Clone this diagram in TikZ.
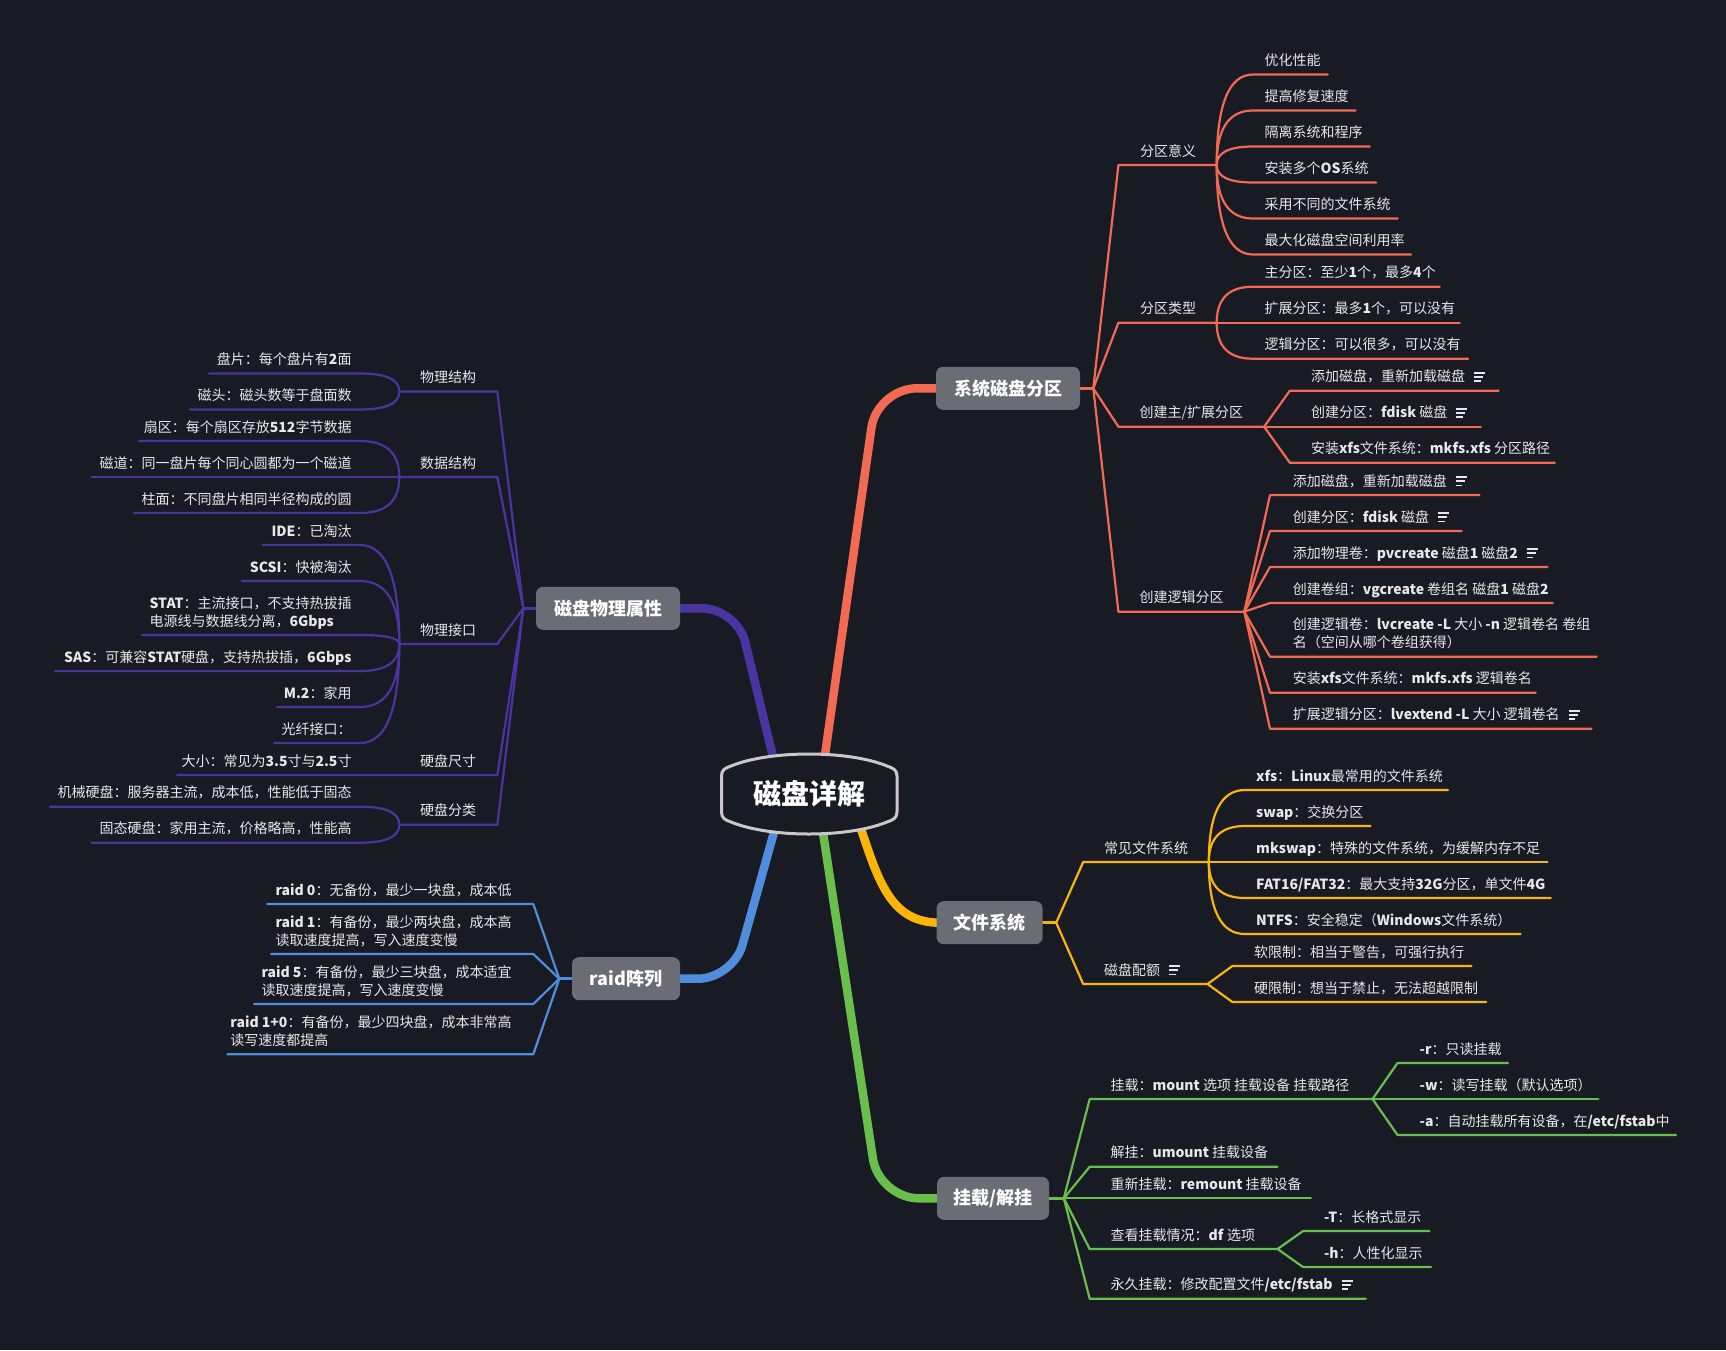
\documentclass[tikz,border=0pt]{standalone}
\usepackage{fontspec}
\setmainfont{Noto Sans CJK SC}
\definecolor{bg}{RGB}{24,26,36}
\definecolor{boxc}{RGB}{106,109,118}
\definecolor{cred}{RGB}{243,106,82}
\definecolor{cpur}{RGB}{76,52,160}
\definecolor{cblu}{RGB}{80,142,221}
\definecolor{cyel}{RGB}{250,180,10}
\definecolor{cgrn}{RGB}{106,190,76}
\definecolor{ctxt}{RGB}{232,232,234}
\definecolor{cbord}{RGB}{200,200,200}
\newcommand\lb[1]{\textbf{#1}}
\newcommand\noteic{\hspace{9pt}\vbox{\hrule width 11pt height 1.5pt\vskip 2.6pt\hrule width 9pt height 1.5pt\vskip 2.6pt\hrule width 6.5pt height 1.5pt}}
\newcommand\ml[1]{\begin{tabular}[b]{@{}l@{}}#1\end{tabular}}
\newcommand\cv[6]{\draw[#1] (#2,#3) .. controls (#2,{#3+(#5-#3)*0.667}) and ({#4-(#4-#2)*0.667},#5) .. (#4,#5) -- (#6,#5);}
\newcommand\tR[4]{\node[lt,anchor=base west] (#1) at (#2,{#3-9}) {#4};}
\newcommand\tL[4]{\node[lt,anchor=base east] (#1) at (#2,{#3-9}) {#4};}
\tikzset{
 lw/.style={line width=2.2pt, line cap=round, line join=round},
 stub/.style={line width=3.5pt},
 mainbr/.style={line width=8.5pt, line cap=round, rounded corners=#1},
 lt/.style={inner sep=0pt, text=ctxt, font=\fontsize{14}{18}\selectfont},
 topic/.style={fill=boxc, rounded corners=7pt, text=white, font=\bfseries\fontsize{18}{22}\selectfont, minimum height=43pt, inner sep=0pt},
}
\begin{document}
\begin{tikzpicture}[x=1pt,y=-1pt]
\useasboundingbox (0,0) rectangle (1726,1350);
\fill[bg] (0,0) rectangle (1726,1350);

% ---------------- red subtree
\coordinate (fr) at (1093.3,388.3);
\draw[cred,stub] (1075,388.3) -- (fr);
\draw[cred,lw] (fr) -- (1118.4,165) -- (1216.7,165);
\draw[cred,lw] (fr) -- (1118.4,322.7) -- (1216.7,322.7);
\draw[cred,lw] (fr) -- (1118.4,426.7) -- (1264.1,426.7);
\draw[cred,lw] (fr) -- (1118.4,611.7) -- (1244.3,611.7);
\cv{cred,lw}{1216.7}{165}{1253}{74.5}{1327.7}
\cv{cred,lw}{1216.7}{165}{1253}{110.5}{1355.6}
\cv{cred,lw}{1216.7}{165}{1253}{146.5}{1369.8}
\cv{cred,lw}{1216.7}{165}{1253}{182.5}{1376.3}
\cv{cred,lw}{1216.7}{165}{1253}{218.5}{1397.7}
\cv{cred,lw}{1216.7}{165}{1253}{254.5}{1411.1}
\cv{cred,lw}{1216.7}{322.7}{1253}{286.7}{1439.8}
\cv{cred,lw}{1216.7}{322.7}{1253}{322.7}{1459.7}
\cv{cred,lw}{1216.7}{322.7}{1253}{358.7}{1468.1}
\draw[cred,lw] (1264.1,426.7) -- (1289.8,390.7) -- (1498.6,390.7);
\draw[cred,lw] (1264.1,426.7) -- (1289.8,426.7) -- (1480.8,426.7);
\draw[cred,lw] (1264.1,426.7) -- (1289.8,462.7) -- (1554.7,462.7);
\draw[cred,lw] (1244.3,611.7) -- (1270,495) -- (1479.6,495);
\draw[cred,lw] (1244.3,611.7) -- (1270,531) -- (1461.8,531);
\draw[cred,lw] (1244.3,611.7) -- (1270,567) -- (1547.6,567);
\draw[cred,lw] (1244.3,611.7) -- (1270,603) -- (1552.7,603);
\draw[cred,lw] (1244.3,611.7) -- (1270,656.7) -- (1596.6,656.7);
\draw[cred,lw] (1244.3,611.7) -- (1270,692.7) -- (1535.7,692.7);
\draw[cred,lw] (1244.3,611.7) -- (1270,728.7) -- (1591.5,728.7);

\tR{r1}{1140}{165}{分区意义}
\tR{r2}{1140}{322.7}{分区类型}
\tR{r3}{1139.5}{426.7}{创建主/扩展分区}
\tR{r4}{1139.5}{611.7}{创建逻辑分区}
\tR{r11}{1264.5}{74.5}{优化性能}
\tR{r12}{1264.5}{110.5}{提高修复速度}
\tR{r13}{1264.5}{146.5}{隔离系统和程序}
\tR{r14}{1264.5}{182.5}{安装多个\lb{OS}系统}
\tR{r15}{1264.5}{218.5}{采用不同的文件系统}
\tR{r16}{1264.5}{254.5}{最大化磁盘空间利用率}
\tR{r21}{1264.5}{286.7}{主分区：至少\lb{1}个，最多\lb{4}个}
\tR{r22}{1264.5}{322.7}{扩展分区：最多\lb{1}个，可以没有}
\tR{r23}{1264.5}{358.7}{逻辑分区：可以很多，可以没有}
\tR{r31}{1310.8}{390.7}{添加磁盘，重新加载磁盘\noteic}
\tR{r32}{1310.8}{426.7}{创建分区：\lb{fdisk} 磁盘\noteic}
\tR{r33}{1310.8}{462.7}{安装\lb{xfs}文件系统：\lb{mkfs.xfs} 分区路径}
\tR{r41}{1292.6}{495}{添加磁盘，重新加载磁盘\noteic}
\tR{r42}{1292.6}{531}{创建分区：\lb{fdisk} 磁盘\noteic}
\tR{r43}{1292.6}{567}{添加物理卷：\lb{pvcreate} 磁盘\lb{1} 磁盘\lb{2}\noteic}
\tR{r44}{1292.6}{603}{创建卷组：\lb{vgcreate} 卷组名 磁盘\lb{1} 磁盘\lb{2}}
\tR{r45}{1292.6}{656.7}{\ml{创建逻辑卷：\lb{lvcreate -L} 大小 \lb{-n} 逻辑卷名 卷组\\名（空间从哪个卷组获得）}}
\tR{r46}{1292.6}{692.7}{安装\lb{xfs}文件系统：\lb{mkfs.xfs} 逻辑卷名}
\tR{r47}{1292.6}{728.7}{扩展逻辑分区：\lb{lvextend -L} 大小 逻辑卷名\noteic}

% ---------------- yellow subtree
\coordinate (fy) at (1056.2,922.7);
\draw[cyel,stub] (1038,922.7) -- (fy);
\draw[cyel,lw] (fy) -- (1083.2,862) -- (1208.8,862);
\draw[cyel,lw] (fy) -- (1083.2,984) -- (1207.5,984);
\cv{cyel,lw}{1208.8}{862}{1244.9}{790}{1448}
\cv{cyel,lw}{1208.8}{862}{1244.9}{826}{1370.5}
\cv{cyel,lw}{1208.8}{862}{1244.9}{862}{1547.5}
\cv{cyel,lw}{1208.8}{862}{1244.9}{898}{1550.8}
\cv{cyel,lw}{1208.8}{862}{1244.9}{934}{1520.6}
\draw[cyel,lw] (1207.5,984) -- (1232.4,966) -- (1471.6,966);
\draw[cyel,lw] (1207.5,984) -- (1232.4,1002) -- (1486.2,1002);
\tR{y1}{1103.9}{862}{常见文件系统}
\tR{y2}{1103.9}{984}{磁盘配额\noteic}
\tR{y11}{1256}{790}{\lb{xfs}：\lb{Linux}最常用的文件系统}
\tR{y12}{1256}{826}{\lb{swap}：交换分区}
\tR{y13}{1256}{862}{\lb{mkswap}：特殊的文件系统，为缓解内存不足}
\tR{y14}{1256}{898}{\lb{FAT16/FAT32}：最大支持\lb{32G}分区，单文件\lb{4G}}
\tR{y15}{1256}{934}{\lb{NTFS}：安全稳定（\lb{Windows}文件系统）}
\tR{y21}{1254}{966}{软限制：相当于警告，可强行执行}
\tR{y22}{1254}{1002}{硬限制：想当于禁止，无法超越限制}

% ---------------- green subtree
\coordinate (fg) at (1063.8,1198.3);
\draw[cgrn,stub] (1045,1198.3) -- (fg);
\draw[cgrn,lw] (fg) -- (1089.7,1099) -- (1372.5,1099);
\draw[cgrn,lw] (fg) -- (1089.7,1166.7) -- (1277.6,1166.7);
\draw[cgrn,lw] (fg) -- (1089.7,1198.3) -- (1310.8,1198.3);
\draw[cgrn,lw] (fg) -- (1089.7,1249) -- (1277.6,1249);
\draw[cgrn,lw] (fg) -- (1089.7,1298.7) -- (1366,1298.7);
\draw[cgrn,lw] (1372.5,1099) -- (1397.5,1063) -- (1507.9,1063);
\draw[cgrn,lw] (1372.5,1099) -- (1397.5,1099) -- (1598.4,1099);
\draw[cgrn,lw] (1372.5,1099) -- (1397.5,1135) -- (1676,1135);
\draw[cgrn,lw] (1277.6,1249) -- (1303,1231) -- (1429.4,1231);
\draw[cgrn,lw] (1277.6,1249) -- (1303,1267) -- (1431.1,1267);
\tR{g1}{1110.4}{1099}{挂载：\lb{mount} 选项 挂载设备 挂载路径}
\tR{g2}{1110.4}{1166.7}{解挂：\lb{umount} 挂载设备}
\tR{g3}{1110.4}{1198.3}{重新挂载：\lb{remount} 挂载设备}
\tR{g4}{1110.4}{1249}{查看挂载情况：\lb{df} 选项}
\tR{g5}{1110.4}{1298.7}{永久挂载：修改配置文件\lb{/etc/fstab}\noteic}
\tR{g11}{1419.5}{1063}{\lb{-r}：只读挂载}
\tR{g12}{1419.5}{1099}{\lb{-w}：读写挂载（默认选项）}
\tR{g13}{1419.5}{1135}{\lb{-a}：自动挂载所有设备，在\lb{/etc/fstab}中}
\tR{g41}{1323.8}{1231}{\lb{-T}：长格式显示}
\tR{g42}{1323.8}{1267}{\lb{-h}：人性化显示}

% ---------------- purple subtree
\coordinate (fp) at (523.3,608.3);
\draw[cpur,stub] (540,608.3) -- (fp);
\draw[cpur,lw] (fp) -- (497.3,391.5) -- (399.3,391.5);
\draw[cpur,lw] (fp) -- (497.3,477) -- (399.3,477);
\draw[cpur,lw] (fp) -- (497.3,644) -- (399.3,644);
\draw[cpur,lw] (fp) -- (497.3,775) -- (177.3,775);
\draw[cpur,lw] (fp) -- (497.3,824.7) -- (399.3,824.7);
\cv{cpur,lw}{399.3}{391.5}{360}{373.5}{209.3}
\cv{cpur,lw}{399.3}{391.5}{360}{409.5}{190}
\cv{cpur,lw}{399.3}{477}{360}{441}{139}
\cv{cpur,lw}{399.3}{477}{360}{477}{91.7}
\cv{cpur,lw}{399.3}{477}{360}{513}{134}
\cv{cpur,lw}{399.3}{644}{360}{545}{262.7}
\cv{cpur,lw}{399.3}{644}{360}{581}{241.7}
\cv{cpur,lw}{399.3}{644}{360}{635}{141.7}
\cv{cpur,lw}{399.3}{644}{360}{671}{55}
\cv{cpur,lw}{399.3}{644}{360}{707}{277.3}
\cv{cpur,lw}{399.3}{644}{360}{743}{274.3}
\cv{cpur,lw}{399.3}{824.7}{360}{806.7}{50}
\cv{cpur,lw}{399.3}{824.7}{360}{842.7}{91.7}
\tR{p1}{420}{391.5}{物理结构}
\tR{p2}{420}{477}{数据结构}
\tR{p3}{420}{644}{物理接口}
\tR{p4}{420}{775}{硬盘尺寸}
\tR{p5}{420}{824.7}{硬盘分类}
\tL{p11}{351.7}{373.5}{盘片：每个盘片有\lb{2}面}
\tL{p12}{351.7}{409.5}{磁头：磁头数等于盘面数}
\tL{p21}{351.7}{441}{扇区：每个扇区存放\lb{512}字节数据}
\tL{p22}{351.7}{477}{磁道：同一盘片每个同心圆都为一个磁道}
\tL{p23}{351.7}{513}{柱面：不同盘片相同半径构成的圆}
\tL{p31}{351.7}{545}{\lb{IDE}：已淘汰}
\tL{p32}{351.7}{581}{\lb{SCSI}：快被淘汰}
\tL{p33}{351.7}{635}{\ml{\lb{STAT}：主流接口，不支持热拔插\\电源线与数据线分离，\lb{6Gbps}}}
\tL{p34}{351.7}{671}{\lb{SAS}：可兼容\lb{STAT}硬盘，支持热拔插，\lb{6Gbps}}
\tL{p35}{351.7}{707}{\lb{M.2}：家用}
\tL{p36}{351.7}{743}{光纤接口：}
\tL{p41}{351.7}{775}{大小：常见为\lb{3.5}寸与\lb{2.5}寸}
\tL{p51}{351.7}{806.7}{机械硬盘：服务器主流，成本低，性能低于固态}
\tL{p52}{351.7}{842.7}{固态硬盘：家用主流，价格略高，性能高}

% ---------------- blue subtree
\coordinate (fb) at (559.3,978.7);
\draw[cblu,stub] (576,978.7) -- (fb);
\draw[cblu,lw] (fb) -- (533.3,904) -- (267.3,904);
\draw[cblu,lw] (fb) -- (533.3,954) -- (271,954);
\draw[cblu,lw] (fb) -- (533.3,1004) -- (254,1004);
\draw[cblu,lw] (fb) -- (533.3,1054.3) -- (227.3,1054.3);
\tL{b1}{511.7}{904}{\lb{raid 0}：无备份，最少一块盘，成本低}
\tL{b2}{511.7}{954}{\ml{\lb{raid 1}：有备份，最少两块盘，成本高\\读取速度提高，写入速度变慢}}
\tL{b3}{511.7}{1004}{\ml{\lb{raid 5}：有备份，最少三块盘，成本适宜\\读取速度提高，写入速度变慢}}
\tL{b4}{511.7}{1054.3}{\ml{\lb{raid 1+0}：有备份，最少四块盘，成本非常高\\读写速度都提高}}

% ---------------- main branches
\draw[cred,mainbr=40pt] (820,790) -- (877,388.3) -- (940,388.3);
\draw[cpur,mainbr=35pt] (781,790) -- (737,608.3) -- (676,608.3);
\draw[cblu,mainbr=35pt] (783,800) -- (733,978.7) -- (676,978.7);
\draw[cgrn,mainbr=40pt] (818,800) -- (879,1198.3) -- (940,1198.3);
\draw[cyel,line width=8.5pt] (850,800) -- (862,832) .. controls (880,886) and (893,922.7) .. (940,922.7);

% ---------------- central node
\draw[cbord,fill=bg,line width=3pt]
  (721.5,812) .. controls (721.5,818) and (725,820) .. (731,822)
  .. controls (770,838) and (848,838) .. (887,822)
  .. controls (893,820) and (897,818) .. (897,812)
  -- (897,776) .. controls (897,770) and (893,768) .. (887,766)
  .. controls (848,750) and (770,750) .. (731,766)
  .. controls (725,768) and (721.5,770) .. (721.5,776) -- cycle;
\node[text=white,font=\bfseries\fontsize{28}{32}\selectfont,inner sep=0pt] (root) at (809,794) {磁盘详解};

% ---------------- main topics
\node[topic,minimum width=144pt] (sys) at (1008,388.3) {系统磁盘分区};
\node[topic,minimum width=106pt] (fs) at (989.6,922.7) {文件系统};
\node[topic,minimum width=112pt] (mnt) at (993,1198.3) {挂载/解挂};
\node[topic,minimum width=144pt] (phy) at (608,608.3) {磁盘物理属性};
\node[topic,minimum width=108pt] (raid) at (626,978.7) {raid阵列};
\end{tikzpicture}
\end{document}
